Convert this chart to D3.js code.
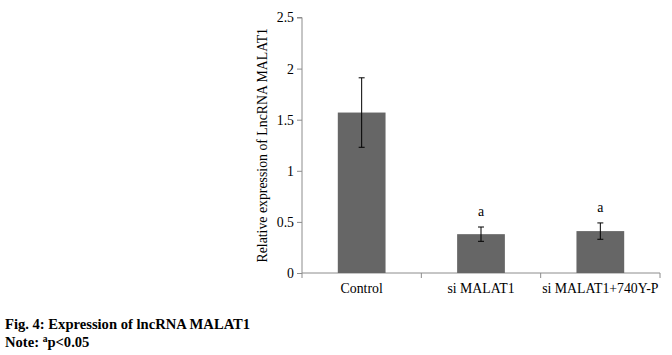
<!DOCTYPE html>
<html><head><meta charset="utf-8">
<script src="https://cdn.jsdelivr.net/npm/d3@7"></script>
<style>body{margin:0;background:#fff}svg{display:block}</style>
</head><body>
<script>
const categories = ["Control", "si MALAT1", "si MALAT1+740Y-P"];
const values = [1.57, 0.38, 0.41];
const errors = [0.34, 0.07, 0.08];
const sigLabels = ["", "a", "a"];
const yTicks = [0, 0.5, 1, 1.5, 2, 2.5];
const yTickLabels = ["0", "0.5", "1", "1.5", "2", "2.5"];
const yLabel = "Relative expression of LncRNA MALAT1";
const caption1 = "Fig. 4: Expression of lncRNA MALAT1";
const caption2 = "Note: ";

const W = 672, H = 355;
const svg = d3.select("body").append("svg").attr("width", W).attr("height", H);
const font = "'Liberation Serif','Times New Roman',serif";
const fs = 13.8;
const x0 = 302, x1 = 660, yTop = 17.5, yBot = 273;
const x = d3.scaleBand().domain(categories).range([x0, x1]).paddingInner(0.6).paddingOuter(0.3);
const xb = d3.scaleBand().domain(categories).range([x0, x1]);
const y = d3.scaleLinear().domain([0, 2.5]).range([yBot, yTop]);
const axisColor = "#8c8c8c";

// y axis
const ya = svg.append("g").attr("transform", `translate(${x0},0)`)
  .call(d3.axisLeft(y).tickValues(yTicks).tickFormat((d, i) => yTickLabels[i]).tickSize(5).tickPadding(3));
ya.select(".domain").attr("stroke", axisColor).attr("d", `M-5,${yTop}H0V${yBot}`);
ya.selectAll(".tick line").attr("stroke", axisColor);
ya.selectAll("text").attr("font-family", font).attr("font-size", fs).attr("fill", "#000");

// x axis
const xa = svg.append("g").attr("transform", `translate(0,${yBot})`);
xa.append("line").attr("x1", x0).attr("x2", x1).attr("y1", 0).attr("y2", 0).attr("stroke", axisColor);
const bounds = categories.map(c => xb(c)).concat([x1]);
xa.selectAll("line.tk").data(bounds).enter().append("line").attr("class", "tk")
  .attr("x1", d => d).attr("x2", d => d).attr("y1", 0).attr("y2", 5).attr("stroke", axisColor);
xa.selectAll("text").data(categories).enter().append("text")
  .attr("x", d => xb(d) + xb.bandwidth() / 2).attr("y", 19.5)
  .attr("text-anchor", "middle").attr("font-family", font).attr("font-size", fs).text(d => d);

// bars
svg.selectAll("rect.bar").data(categories).enter().append("rect").attr("class", "bar")
  .attr("x", d => x(d)).attr("width", x.bandwidth())
  .attr("y", (d, i) => y(values[i])).attr("height", (d, i) => y(0) - y(values[i]))
  .attr("fill", "#666666");

// error bars
const eb = svg.selectAll("g.err").data(categories).enter().append("g").attr("class", "err");
eb.append("line").attr("x1", d => xb(d) + xb.bandwidth() / 2).attr("x2", d => xb(d) + xb.bandwidth() / 2)
  .attr("y1", (d, i) => y(values[i] + errors[i])).attr("y2", (d, i) => y(values[i] - errors[i]))
  .attr("stroke", "#000").attr("stroke-width", 1);
[1, -1].forEach(s => {
  eb.append("line").attr("x1", d => xb(d) + xb.bandwidth() / 2 - 3).attr("x2", d => xb(d) + xb.bandwidth() / 2 + 3)
    .attr("y1", (d, i) => y(values[i] + s * errors[i])).attr("y2", (d, i) => y(values[i] + s * errors[i]))
    .attr("stroke", "#000").attr("stroke-width", 1);
});
// significance labels
svg.selectAll("text.sig").data(categories).enter().append("text").attr("class", "sig")
  .attr("x", d => xb(d) + xb.bandwidth() / 2)
  .attr("y", (d, i) => y(values[i] + errors[i]) - 11)
  .attr("text-anchor", "middle").attr("font-family", font).attr("font-size", fs)
  .text((d, i) => sigLabels[i]);

// y label
svg.append("text").attr("transform", `translate(267,${(yTop + yBot) / 2}) rotate(-90)`)
  .attr("text-anchor", "middle").attr("font-family", font).attr("font-size", fs).text(yLabel);

// captions
svg.append("text").attr("x", 5).attr("y", 328.5).attr("font-family", font).attr("font-weight", "bold")
  .attr("font-size", 14.6).text(caption1);
const c2 = svg.append("text").attr("x", 5).attr("y", 347).attr("font-family", font).attr("font-weight", "bold")
  .attr("font-size", 14.6);
c2.append("tspan").text(caption2);
c2.append("tspan").attr("font-size", 9.5).attr("dy", -5).text("a");
c2.append("tspan").attr("dy", 5).text("p<0.05");
</script>
</body></html>
